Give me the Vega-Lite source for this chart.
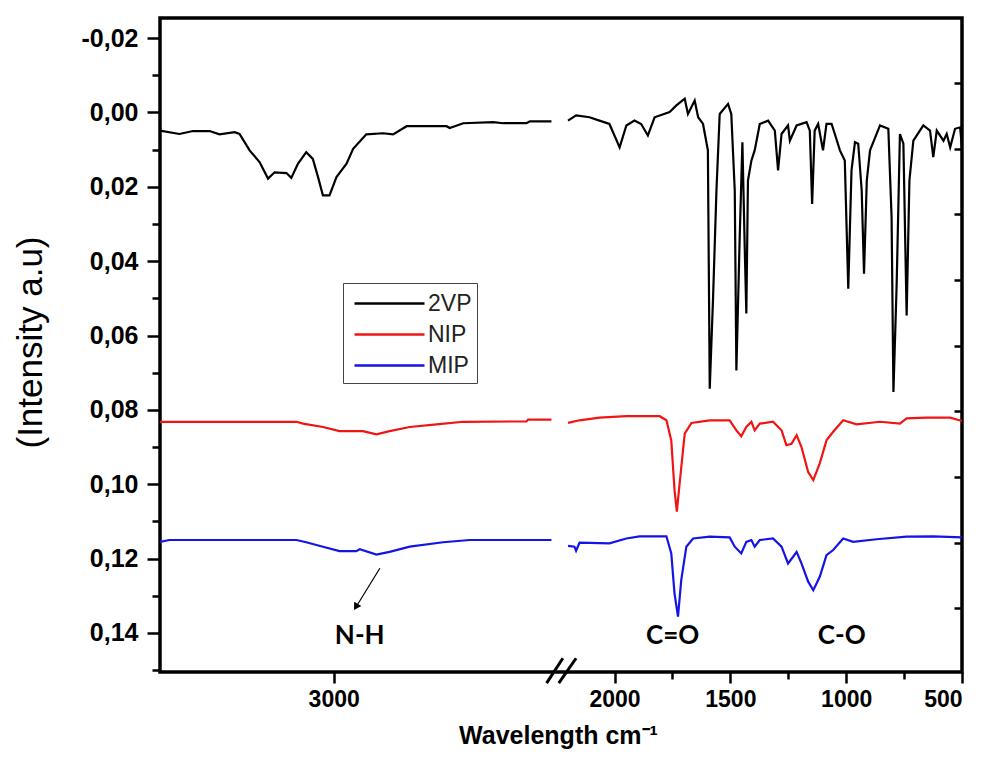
{
  "$schema": "https://vega.github.io/schema/vega-lite/v6.json",
  "width": 802,
  "height": 654,
  "autosize": {"type": "none"},
  "padding": {"left": 160, "top": 18, "right": 22, "bottom": 106},
  "background": "white",
  "config": {
    "view": {"stroke": null},
    "locale": {"number": {"decimal": ",", "thousands": ".", "grouping": [3], "currency": ["", "€"], "minus": "-"}},
    "axis": {"grid": false, "domainColor": "black", "tickColor": "black", "labelColor": "black", "titleColor": "black"}
  },
  "datasets": {
    "spec": [
      {"s":"2VP","g":"L","x":3500,"y":0.0049},{"s":"2VP","g":"L","x":3444,"y":0.0058},{"s":"2VP","g":"L","x":3405,"y":0.0050},{"s":"2VP","g":"L","x":3357,"y":0.0050},{"s":"2VP","g":"L","x":3329,"y":0.0059},{"s":"2VP","g":"L","x":3285,"y":0.0053},{"s":"2VP","g":"L","x":3271,"y":0.0058},{"s":"2VP","g":"L","x":3242,"y":0.0102},{"s":"2VP","g":"L","x":3213,"y":0.0134},{"s":"2VP","g":"L","x":3189,"y":0.0178},{"s":"2VP","g":"L","x":3170,"y":0.0161},{"s":"2VP","g":"L","x":3136,"y":0.0163},{"s":"2VP","g":"L","x":3122,"y":0.0176},{"s":"2VP","g":"L","x":3103,"y":0.0138},{"s":"2VP","g":"L","x":3079,"y":0.0107},{"s":"2VP","g":"L","x":3060,"y":0.0125},{"s":"2VP","g":"L","x":3045,"y":0.0174},{"s":"2VP","g":"L","x":3031,"y":0.0223},{"s":"2VP","g":"L","x":3012,"y":0.0223},{"s":"2VP","g":"L","x":2992,"y":0.0174},{"s":"2VP","g":"L","x":2963,"y":0.0138},{"s":"2VP","g":"L","x":2944,"y":0.0098},{"s":"2VP","g":"L","x":2906,"y":0.0059},{"s":"2VP","g":"L","x":2858,"y":0.0056},{"s":"2VP","g":"L","x":2829,"y":0.0059},{"s":"2VP","g":"L","x":2790,"y":0.0037},{"s":"2VP","g":"L","x":2675,"y":0.0037},{"s":"2VP","g":"L","x":2666,"y":0.0042},{"s":"2VP","g":"L","x":2627,"y":0.0029},{"s":"2VP","g":"L","x":2541,"y":0.0026},{"s":"2VP","g":"L","x":2512,"y":0.0029},{"s":"2VP","g":"L","x":2445,"y":0.0029},{"s":"2VP","g":"L","x":2435,"y":0.0024},{"s":"2VP","g":"L","x":2373,"y":0.0024},
      {"s":"NIP","g":"L","x":3500,"y":0.0832},{"s":"NIP","g":"L","x":3107,"y":0.0832},{"s":"NIP","g":"L","x":3088,"y":0.0837},{"s":"NIP","g":"L","x":3031,"y":0.0846},{"s":"NIP","g":"L","x":2983,"y":0.0857},{"s":"NIP","g":"L","x":2916,"y":0.0857},{"s":"NIP","g":"L","x":2877,"y":0.0866},{"s":"NIP","g":"L","x":2839,"y":0.0857},{"s":"NIP","g":"L","x":2781,"y":0.0846},{"s":"NIP","g":"L","x":2704,"y":0.0839},{"s":"NIP","g":"L","x":2627,"y":0.0832},{"s":"NIP","g":"L","x":2445,"y":0.0831},{"s":"NIP","g":"L","x":2440,"y":0.0826},{"s":"NIP","g":"L","x":2373,"y":0.0826},
      {"s":"MIP","g":"L","x":3500,"y":0.1155},{"s":"MIP","g":"L","x":3473,"y":0.1150},{"s":"MIP","g":"L","x":3107,"y":0.1150},{"s":"MIP","g":"L","x":3079,"y":0.1156},{"s":"MIP","g":"L","x":3031,"y":0.1168},{"s":"MIP","g":"L","x":2983,"y":0.1180},{"s":"MIP","g":"L","x":2935,"y":0.1180},{"s":"MIP","g":"L","x":2925,"y":0.1175},{"s":"MIP","g":"L","x":2877,"y":0.1189},{"s":"MIP","g":"L","x":2839,"y":0.1182},{"s":"MIP","g":"L","x":2781,"y":0.1168},{"s":"MIP","g":"L","x":2685,"y":0.1156},{"s":"MIP","g":"L","x":2608,"y":0.1150},{"s":"MIP","g":"L","x":2373,"y":0.1150},
      {"s":"2VP","g":"R","x":2202,"y":0.0022},{"s":"2VP","g":"R","x":2166,"y":0.0008},{"s":"2VP","g":"R","x":2108,"y":0.0013},{"s":"2VP","g":"R","x":2065,"y":0.0022},{"s":"2VP","g":"R","x":2022,"y":0.0031},{"s":"2VP","g":"R","x":1978,"y":0.0094},{"s":"2VP","g":"R","x":1949,"y":0.0035},{"s":"2VP","g":"R","x":1914,"y":0.0022},{"s":"2VP","g":"R","x":1885,"y":0.0031},{"s":"2VP","g":"R","x":1856,"y":0.0062},{"s":"2VP","g":"R","x":1827,"y":0.0013},{"s":"2VP","g":"R","x":1762,"y":-0.0001},{"s":"2VP","g":"R","x":1733,"y":-0.0019},{"s":"2VP","g":"R","x":1697,"y":-0.0037},{"s":"2VP","g":"R","x":1683,"y":0.0004},{"s":"2VP","g":"R","x":1654,"y":-0.0032},{"s":"2VP","g":"R","x":1639,"y":0.0013},{"s":"2VP","g":"R","x":1618,"y":0.0031},{"s":"2VP","g":"R","x":1597,"y":0.0102},{"s":"2VP","g":"R","x":1589,"y":0.0743},{"s":"2VP","g":"R","x":1575,"y":0.0505},{"s":"2VP","g":"R","x":1560,"y":0.0210},{"s":"2VP","g":"R","x":1546,"y":0.0004},{"s":"2VP","g":"R","x":1510,"y":-0.0023},{"s":"2VP","g":"R","x":1496,"y":0.0004},{"s":"2VP","g":"R","x":1481,"y":0.0210},{"s":"2VP","g":"R","x":1474,"y":0.0694},{"s":"2VP","g":"R","x":1460,"y":0.0344},{"s":"2VP","g":"R","x":1448,"y":0.0080},{"s":"2VP","g":"R","x":1438,"y":0.0362},{"s":"2VP","g":"R","x":1431,"y":0.0541},{"s":"2VP","g":"R","x":1424,"y":0.0183},{"s":"2VP","g":"R","x":1409,"y":0.0129},{"s":"2VP","g":"R","x":1395,"y":0.0102},{"s":"2VP","g":"R","x":1373,"y":0.0031},{"s":"2VP","g":"R","x":1337,"y":0.0022},{"s":"2VP","g":"R","x":1308,"y":0.0049},{"s":"2VP","g":"R","x":1294,"y":0.0156},{"s":"2VP","g":"R","x":1279,"y":0.0058},{"s":"2VP","g":"R","x":1251,"y":0.0035},{"s":"2VP","g":"R","x":1243,"y":0.0076},{"s":"2VP","g":"R","x":1214,"y":0.0035},{"s":"2VP","g":"R","x":1171,"y":0.0026},{"s":"2VP","g":"R","x":1157,"y":0.0049},{"s":"2VP","g":"R","x":1147,"y":0.0246},{"s":"2VP","g":"R","x":1136,"y":0.0049},{"s":"2VP","g":"R","x":1121,"y":0.0031},{"s":"2VP","g":"R","x":1100,"y":0.0102},{"s":"2VP","g":"R","x":1085,"y":0.0031},{"s":"2VP","g":"R","x":1063,"y":0.0031},{"s":"2VP","g":"R","x":1049,"y":0.0058},{"s":"2VP","g":"R","x":1027,"y":0.0102},{"s":"2VP","g":"R","x":1006,"y":0.0129},{"s":"2VP","g":"R","x":991,"y":0.0474},{"s":"2VP","g":"R","x":977,"y":0.0156},{"s":"2VP","g":"R","x":962,"y":0.0080},{"s":"2VP","g":"R","x":948,"y":0.0084},{"s":"2VP","g":"R","x":933,"y":0.0210},{"s":"2VP","g":"R","x":923,"y":0.0434},{"s":"2VP","g":"R","x":911,"y":0.0183},{"s":"2VP","g":"R","x":897,"y":0.0102},{"s":"2VP","g":"R","x":854,"y":0.0035},{"s":"2VP","g":"R","x":818,"y":0.0044},{"s":"2VP","g":"R","x":804,"y":0.0282},{"s":"2VP","g":"R","x":796,"y":0.0752},{"s":"2VP","g":"R","x":782,"y":0.0461},{"s":"2VP","g":"R","x":768,"y":0.0058},{"s":"2VP","g":"R","x":753,"y":0.0084},{"s":"2VP","g":"R","x":739,"y":0.0546},{"s":"2VP","g":"R","x":727,"y":0.0183},{"s":"2VP","g":"R","x":710,"y":0.0076},{"s":"2VP","g":"R","x":667,"y":0.0035},{"s":"2VP","g":"R","x":638,"y":0.0049},{"s":"2VP","g":"R","x":624,"y":0.0120},{"s":"2VP","g":"R","x":609,"y":0.0049},{"s":"2VP","g":"R","x":580,"y":0.0076},{"s":"2VP","g":"R","x":566,"y":0.0058},{"s":"2VP","g":"R","x":551,"y":0.0094},{"s":"2VP","g":"R","x":530,"y":0.0044},{"s":"2VP","g":"R","x":508,"y":0.0040},{"s":"2VP","g":"R","x":500,"y":0.0097},
      {"s":"NIP","g":"R","x":2202,"y":0.0835},{"s":"NIP","g":"R","x":2151,"y":0.0828},{"s":"NIP","g":"R","x":2065,"y":0.0821},{"s":"NIP","g":"R","x":1949,"y":0.0817},{"s":"NIP","g":"R","x":1805,"y":0.0817},{"s":"NIP","g":"R","x":1776,"y":0.0828},{"s":"NIP","g":"R","x":1755,"y":0.0882},{"s":"NIP","g":"R","x":1741,"y":0.1016},{"s":"NIP","g":"R","x":1731,"y":0.1074},{"s":"NIP","g":"R","x":1719,"y":0.0998},{"s":"NIP","g":"R","x":1697,"y":0.0864},{"s":"NIP","g":"R","x":1668,"y":0.0835},{"s":"NIP","g":"R","x":1589,"y":0.0828},{"s":"NIP","g":"R","x":1503,"y":0.0828},{"s":"NIP","g":"R","x":1474,"y":0.0855},{"s":"NIP","g":"R","x":1453,"y":0.0871},{"s":"NIP","g":"R","x":1431,"y":0.0846},{"s":"NIP","g":"R","x":1409,"y":0.0832},{"s":"NIP","g":"R","x":1395,"y":0.0855},{"s":"NIP","g":"R","x":1373,"y":0.0837},{"s":"NIP","g":"R","x":1316,"y":0.0832},{"s":"NIP","g":"R","x":1279,"y":0.0855},{"s":"NIP","g":"R","x":1258,"y":0.0895},{"s":"NIP","g":"R","x":1236,"y":0.0891},{"s":"NIP","g":"R","x":1214,"y":0.0868},{"s":"NIP","g":"R","x":1193,"y":0.0900},{"s":"NIP","g":"R","x":1164,"y":0.0967},{"s":"NIP","g":"R","x":1142,"y":0.0989},{"s":"NIP","g":"R","x":1114,"y":0.0944},{"s":"NIP","g":"R","x":1085,"y":0.0882},{"s":"NIP","g":"R","x":1056,"y":0.0859},{"s":"NIP","g":"R","x":1013,"y":0.0828},{"s":"NIP","g":"R","x":955,"y":0.0839},{"s":"NIP","g":"R","x":854,"y":0.0832},{"s":"NIP","g":"R","x":768,"y":0.0837},{"s":"NIP","g":"R","x":739,"y":0.0823},{"s":"NIP","g":"R","x":653,"y":0.0821},{"s":"NIP","g":"R","x":551,"y":0.0821},{"s":"NIP","g":"R","x":500,"y":0.0830},
      {"s":"MIP","g":"R","x":2202,"y":0.1166},{"s":"MIP","g":"R","x":2173,"y":0.1168},{"s":"MIP","g":"R","x":2166,"y":0.1179},{"s":"MIP","g":"R","x":2151,"y":0.1157},{"s":"MIP","g":"R","x":2022,"y":0.1159},{"s":"MIP","g":"R","x":1949,"y":0.1146},{"s":"MIP","g":"R","x":1892,"y":0.1140},{"s":"MIP","g":"R","x":1776,"y":0.1140},{"s":"MIP","g":"R","x":1755,"y":0.1186},{"s":"MIP","g":"R","x":1741,"y":0.1294},{"s":"MIP","g":"R","x":1726,"y":0.1356},{"s":"MIP","g":"R","x":1712,"y":0.1258},{"s":"MIP","g":"R","x":1690,"y":0.1168},{"s":"MIP","g":"R","x":1661,"y":0.1146},{"s":"MIP","g":"R","x":1589,"y":0.1141},{"s":"MIP","g":"R","x":1503,"y":0.1143},{"s":"MIP","g":"R","x":1481,"y":0.1168},{"s":"MIP","g":"R","x":1453,"y":0.1186},{"s":"MIP","g":"R","x":1431,"y":0.1155},{"s":"MIP","g":"R","x":1409,"y":0.1150},{"s":"MIP","g":"R","x":1395,"y":0.1168},{"s":"MIP","g":"R","x":1373,"y":0.1150},{"s":"MIP","g":"R","x":1316,"y":0.1146},{"s":"MIP","g":"R","x":1279,"y":0.1168},{"s":"MIP","g":"R","x":1251,"y":0.1213},{"s":"MIP","g":"R","x":1229,"y":0.1195},{"s":"MIP","g":"R","x":1214,"y":0.1182},{"s":"MIP","g":"R","x":1193,"y":0.1213},{"s":"MIP","g":"R","x":1164,"y":0.1262},{"s":"MIP","g":"R","x":1142,"y":0.1285},{"s":"MIP","g":"R","x":1114,"y":0.1249},{"s":"MIP","g":"R","x":1085,"y":0.1191},{"s":"MIP","g":"R","x":1056,"y":0.1177},{"s":"MIP","g":"R","x":1013,"y":0.1146},{"s":"MIP","g":"R","x":970,"y":0.1155},{"s":"MIP","g":"R","x":869,"y":0.1148},{"s":"MIP","g":"R","x":739,"y":0.1141},{"s":"MIP","g":"R","x":624,"y":0.1140},{"s":"MIP","g":"R","x":500,"y":0.1143}
    ],
    "arrow": [{"x": 2867, "y": 0.1226, "x2": 2933, "y2": 0.1326}],
    "head": [{"x": 2936, "y": 0.1330}],
    "labels": [
      {"t": "N-H", "x": 2925, "y": 0.1408},
      {"t": "C=O", "x": 1749, "y": 0.1408},
      {"t": "C-O", "x": 1019, "y": 0.1408}
    ],
    "brk": [
      {"x": 2387, "y": 0.1535, "x2": 2258, "y2": 0.1468},
      {"x": 2302, "y": 0.1535, "x2": 2166, "y2": 0.1468}
    ],
    "frame": [{"x": 3500, "x2": 500, "y": -0.0254, "y2": 0.1505}]
  },
  "resolve": {"axis": {"x": "independent", "y": "independent"}},
  "layer": [
    {
      "data": {"name": "frame"},
      "mark": {"type": "rect", "fill": null, "fillOpacity": 0, "stroke": "black", "strokeWidth": 3.5, "clip": false},
      "encoding": {
        "x": {"field": "x", "type": "quantitative", "axis": null},
        "x2": {"field": "x2"},
        "y": {"field": "y", "type": "quantitative", "axis": null},
        "y2": {"field": "y2"}
      }
    },
    {
      "data": {"name": "spec"},
      "mark": {"type": "line", "strokeWidth": 2.2, "interpolate": "linear"},
      "encoding": {
        "x": {"field": "x", "type": "quantitative",
          "scale": {"domain": [3500, 2370, 2200, 500], "range": [0, 392.5, 408.2, 802], "nice": false, "zero": false},
          "axis": {"orient": "bottom", "values": [3000, 2000, 1500, 1000, 500], "format": "d", "tickSize": 11, "tickWidth": 2.5, "labelPadding": 5,
            "domain": false,
            "labelFont": "Liberation Sans", "labelFontWeight": "bold", "labelFontSize": 23,
            "title": "Wavelength cm⁻¹", "titleFont": "Liberation Sans", "titleFontWeight": "bold", "titleFontSize": 25,
            "titleX": 398, "titleY": 63, "titleAlign": "center", "titleBaseline": "middle"}},
        "y": {"field": "y", "type": "quantitative",
          "scale": {"domain": [-0.0254, 0.1505], "reverse": true, "nice": false, "zero": false},
          "axis": {"orient": "left", "values": [-0.02, 0, 0.02, 0.04, 0.06, 0.08, 0.1, 0.12, 0.14], "format": ".2f", "tickSize": 13, "tickWidth": 2.5, "labelPadding": 9,
            "domain": false,
            "labelFont": "Liberation Sans", "labelFontWeight": "bold", "labelFontSize": 25,
            "title": "(Intensity a.u)", "titleFont": "Liberation Sans", "titleFontWeight": "normal", "titleFontSize": 35,
            "titleX": -130, "titleY": 324, "titleAngle": 270, "titleAlign": "center", "titleBaseline": "middle"}},
        "color": {"field": "s", "type": "nominal",
          "scale": {"domain": ["2VP", "NIP", "MIP"], "range": ["#000000", "#f01414", "#1414e6"]},
          "legend": {"orient": "none", "legendX": 183, "legendY": 265, "title": null,
            "symbolType": "M-2.5,0H2.5", "symbolSize": 784, "symbolOffset": 26, "symbolStrokeWidth": 2.5,
            "labelFont": "Liberation Sans", "labelFontSize": 23, "labelColor": "#222", "labelOffset": 23,
            "padding": 5, "strokeColor": "#444", "rowPadding": 3}},
        "detail": {"field": "g"}
      }
    },
    {
      "data": {"name": "arrow"},
      "mark": {"type": "rule", "strokeWidth": 1.2, "color": "black"},
      "encoding": {
        "x": {"field": "x", "type": "quantitative",
          "axis": {"orient": "bottom", "values": [1750, 1250, 750], "labels": false, "tickSize": 7, "tickWidth": 2.5, "title": null, "domain": false}},
        "x2": {"field": "x2"},
        "y": {"field": "y", "type": "quantitative",
          "axis": {"orient": "left", "values": [-0.01, 0.01, 0.03, 0.05, 0.07, 0.09, 0.11, 0.13, 0.15], "labels": false, "tickSize": 8, "tickWidth": 2.5, "title": null, "domain": false}},
        "y2": {"field": "y2"}
      }
    },
    {
      "data": {"name": "head"},
      "mark": {"type": "point", "shape": "triangle-down", "filled": true, "color": "black", "size": 70, "angle": 31, "opacity": 1},
      "encoding": {
        "x": {"field": "x", "type": "quantitative", "axis": null},
        "y": {"field": "y", "type": "quantitative", "axis": null}
      }
    },
    {
      "data": {"name": "labels"},
      "mark": {"type": "text", "font": "Lato", "fontWeight": "bold", "fontSize": 26, "color": "black", "baseline": "middle", "align": "center"},
      "encoding": {
        "x": {"field": "x", "type": "quantitative", "axis": null},
        "y": {"field": "y", "type": "quantitative",
          "axis": {"orient": "right", "offset": -8, "values": [-0.008, 0.0097, 0.0274, 0.045, 0.0627, 0.0804, 0.098, 0.1157, 0.1333], "labels": false, "tickSize": 7, "tickWidth": 2.5, "title": null, "domain": false}},
        "text": {"field": "t"}
      }
    },
    {
      "data": {"name": "brk"},
      "mark": {"type": "rule", "strokeWidth": 3, "color": "black", "clip": false},
      "encoding": {
        "x": {"field": "x", "type": "quantitative", "axis": null},
        "x2": {"field": "x2"},
        "y": {"field": "y", "type": "quantitative", "axis": null},
        "y2": {"field": "y2"}
      }
    }
  ]
}
